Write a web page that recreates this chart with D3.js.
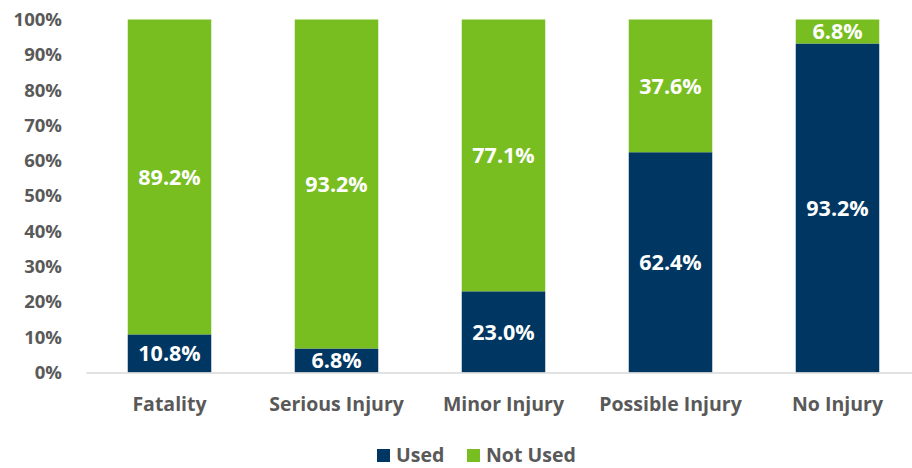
<!DOCTYPE html>
<html>
<head>
<meta charset="utf-8">
<script src="https://cdn.jsdelivr.net/npm/d3@7"></script>
<style>
  body { margin: 0; background: #fff; }
  svg { display: block; font-family: "Open Sans", sans-serif; font-weight: 700; }
</style>
</head>
<body>
<svg id="chart" width="912" height="468"></svg>
<script>
// Restraint use share by injury severity
const categories = ["Fatality", "Serious Injury", "Minor Injury", "Possible Injury", "No Injury"];
const used = [10.8, 6.8, 23.0, 62.4, 93.2];
const notUsed = [89.2, 93.2, 77.1, 37.6, 6.8];
const seriesNames = ["Used", "Not Used"];
const yTicks = [0, 10, 20, 30, 40, 50, 60, 70, 80, 90, 100];

const colors = { "Used": "#003762", "Not Used": "#78be20" };
const textGray = "#595959";

const svg = d3.select("#chart");
const margin = { left: 86, right: -9, top: 19.5, bottom: 95.5 };
const W = 912, H = 468;

const x = d3.scaleBand().domain(categories).range([margin.left, W - margin.right]).paddingInner(0.5).paddingOuter(0.25);
const y = d3.scaleLinear().domain([0, 100]).range([H - margin.bottom, margin.top]);

const rows = categories.map((c, i) => ({ category: c, "Used": used[i], "Not Used": notUsed[i] }));
const stacked = d3.stack().keys(seriesNames)(rows);

// Bars
const layers = svg.append("g").selectAll("g").data(stacked).join("g")
  .attr("fill", d => colors[d.key]);
layers.selectAll("rect").data(d => d).join("rect")
  .attr("x", d => x(d.data.category))
  .attr("width", x.bandwidth())
  .attr("y", d => y(Math.min(d[1], 100)))
  .attr("height", d => y(d[0]) - y(Math.min(d[1], 100)));

// Value labels centred in each segment
layers.selectAll("text").data(d => d.map(v => ({ v, key: d.key }))).join("text")
  .attr("x", d => x(d.v.data.category) + x.bandwidth() / 2)
  .attr("y", d => (y(d.v[0]) + y(Math.min(d.v[1], 100))) / 2)
  .attr("dy", "0.36em")
  .attr("text-anchor", "middle")
  .attr("fill", "#fff")
  .attr("font-size", 21.5)
  .text(d => d.v.data[d.key].toFixed(1) + "%");

// Y axis labels
const yAxis = svg.append("g")
  .attr("transform", `translate(${margin.left - 24},0)`)
  .call(d3.axisLeft(y).tickValues(yTicks).tickFormat(d => d + "%").tickSize(0).tickPadding(0));
yAxis.select(".domain").remove();
yAxis.selectAll("text").attr("fill", textGray).attr("font-size", 18.5)
  .attr("font-family", "'Open Sans', sans-serif").attr("font-weight", 700);

// X axis baseline and category labels
const xAxis = svg.append("g")
  .attr("transform", `translate(0,${y(0)})`)
  .call(d3.axisBottom(x).tickSize(0).tickPadding(25));
xAxis.select(".domain").attr("stroke", "#d9d9d9").attr("stroke-width", 1.5);
xAxis.selectAll("text").attr("fill", textGray).attr("font-size", 19.5)
  .attr("font-family", "'Open Sans', sans-serif").attr("font-weight", 700);

// Legend
const legend = svg.append("g").attr("transform", "translate(377,455.5)");
const items = [{ name: "Used", dx: 0 }, { name: "Not Used", dx: 90 }];
const li = legend.selectAll("g").data(items).join("g").attr("transform", d => `translate(${d.dx},0)`);
li.append("rect").attr("x", 0).attr("y", -6.5).attr("width", 13).attr("height", 13).attr("fill", d => colors[d.name]);
li.append("text").attr("x", 19).attr("dy", "0.35em").attr("fill", textGray).attr("font-size", 19.5)
  .text(d => d.name);
</script>
</body>
</html>
